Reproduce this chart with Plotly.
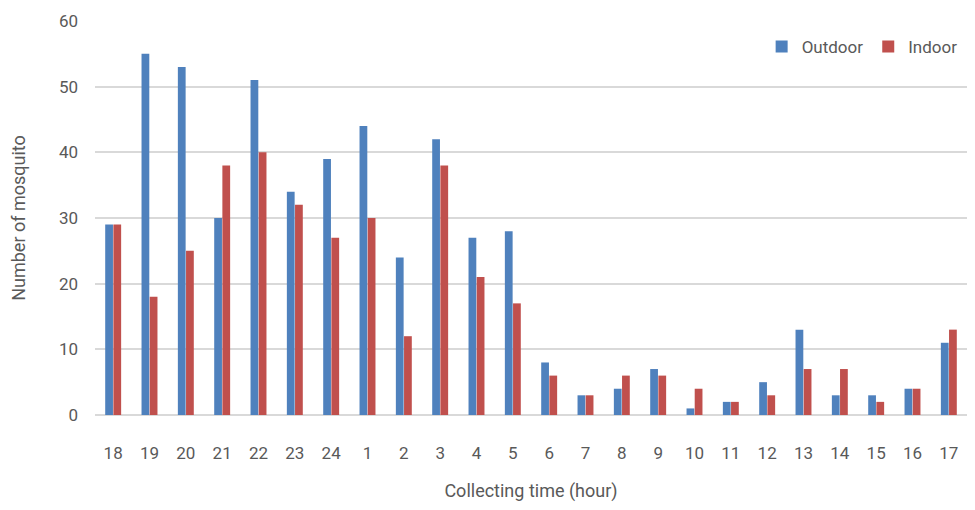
import plotly.graph_objects as go

hours = ["18", "19", "20", "21", "22", "23", "24", "1", "2", "3", "4", "5",
         "6", "7", "8", "9", "10", "11", "12", "13", "14", "15", "16", "17"]
outdoor = [29, 55, 53, 30, 51, 34, 39, 44, 24, 42, 27, 28,
           8, 3, 4, 7, 1, 2, 5, 13, 3, 3, 4, 11]
indoor = [29, 18, 25, 38, 40, 32, 27, 30, 12, 38, 21, 17,
          6, 3, 6, 6, 4, 2, 3, 7, 7, 2, 4, 13]

font_family = "Liberation Sans Narrow, Roboto, Arial, sans-serif"
txt = "#595959"

fig = go.Figure()
fig.add_trace(go.Bar(x=hours, y=outdoor, name="Outdoor", marker_color="#4F81BD",
                     marker_line_width=0))
fig.add_trace(go.Bar(x=hours, y=indoor, name="Indoor", marker_color="#C0504D",
                     marker_line_width=0))

fig.update_layout(
    width=975, height=510,
    margin=dict(l=95, r=8, t=21, b=95, autoexpand=False),
    barmode="group", bargap=0.55, bargroupgap=0.05,
    plot_bgcolor="white", paper_bgcolor="white",
    font=dict(family=font_family, size=17, color=txt),
    legend=dict(orientation="h", x=0.995, xanchor="right", y=0.98, yanchor="top",
                font=dict(size=17, color=txt), bgcolor="rgba(0,0,0,0)",
                itemwidth=30, traceorder="normal"),
    xaxis=dict(title=dict(text="Collecting time (hour)", font=dict(size=18, color=txt), standoff=22),
               showgrid=False, showline=False, ticks="", tickfont=dict(size=17, color=txt),
               ticklabelstandoff=26, type="category", automargin=False),
    yaxis=dict(title=dict(text="Number of mosquito", font=dict(size=18, color=txt), standoff=28),
               range=[0, 60], dtick=10, showgrid=True, gridcolor="#D9D9D9", gridwidth=1.5,
               zeroline=True, zerolinecolor="#D9D9D9", showline=False, ticks="",
               ticklabelstandoff=16, automargin=False,
               tickfont=dict(size=17, color=txt)),
)

fig.write_html("out.html")
